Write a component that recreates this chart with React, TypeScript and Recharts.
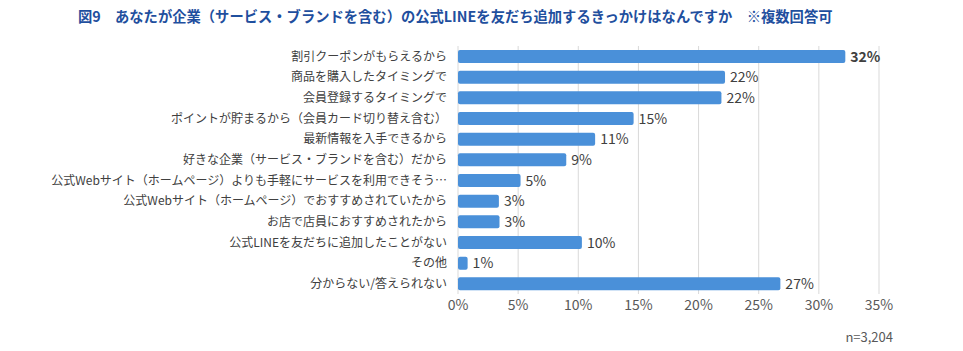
import { BarChart, Bar, XAxis, YAxis, CartesianGrid, LabelList } from "recharts";

const categories = [
  "割引クーポンがもらえるから",
  "商品を購入したタイミングで",
  "会員登録するタイミングで",
  "ポイントが貯まるから（会員カード切り替え含む）",
  "最新情報を入手できるから",
  "好きな企業（サービス・ブランドを含む）だから",
  "公式Webサイト（ホームページ）よりも手軽にサービスを利用できそう…",
  "公式Webサイト（ホームページ）でおすすめされていたから",
  "お店で店員におすすめされたから",
  "公式LINEを友だちに追加したことがない",
  "その他",
  "分からない/答えられない",
];

// percent
const values = [32.2, 22.2, 21.9, 14.6, 11.4, 9.0, 5.2, 3.4, 3.45, 10.3, 0.8, 26.8];

const xTicks = [0, 5, 10, 15, 20, 25, 30, 35];

const title = "図9　あなたが企業（サービス・ブランドを含む）の公式LINEを友だち追加するきっかけはなんですか　※複数回答可";
const note = "n=3,204";

const data = categories.map((name, i) => ({ name, value: values[i] }));

const FONT = '"Noto Sans CJK JP", "Noto Sans", sans-serif';

const ValueLabel = (props: any) => {
  const { x, y, width, height, value, index } = props;
  return (
    <text
      x={x + width + 5}
      y={y + height / 2}
      dy="0.36em"
      fontSize={14}
      fontFamily={FONT}
      fontWeight={index === 0 ? 700 : 400}
      fill="#404040"
    >
      {Math.round(value)}%
    </text>
  );
};

export default function App() {
  return (
    <div style={{ position: "absolute", left: 0, top: 0, width: 963, height: 351, background: "#fff", fontFamily: FONT }}>
      <div
        style={{
          position: "absolute",
          left: 78,
          top: 6,
          fontSize: 14.3,
          fontWeight: 700,
          color: "#1f4f9e",
          whiteSpace: "nowrap",
          lineHeight: "20px",
        }}
      >
        {title}
      </div>
      <BarChart
        width={963}
        height={351}
        data={data}
        layout="vertical"
        margin={{ top: 46, right: 84, bottom: 27, left: 0 }}
      >
        <CartesianGrid horizontal={false} stroke="#d9d9d9" />
        <XAxis
          type="number"
          domain={[0, 35]}
          ticks={xTicks}
          tickFormatter={(v: number) => `${v}%`}
          axisLine={false}
          tickLine={false}
          tickSize={0}
          tickMargin={6}
          height={30}
          tick={{ fontSize: 14, fill: "#595959", fontFamily: FONT }}
        />
        <YAxis
          type="category"
          dataKey="name"
          width={458}
          axisLine={false}
          tickLine={false}
          tickSize={0}
          tickMargin={11}
          interval={0}
          tick={{ fontSize: 12, fill: "#404040", fontFamily: FONT }}
        />
        <Bar dataKey="value" fill="#4a90d9" barSize={13} radius={2} isAnimationActive={false}>
          <LabelList dataKey="value" content={ValueLabel} />
        </Bar>
      </BarChart>
      <div
        style={{
          position: "absolute",
          right: 70,
          top: 329,
          fontSize: 13,
          color: "#595959",
          lineHeight: "16px",
        }}
      >
        {note}
      </div>
    </div>
  );
}
